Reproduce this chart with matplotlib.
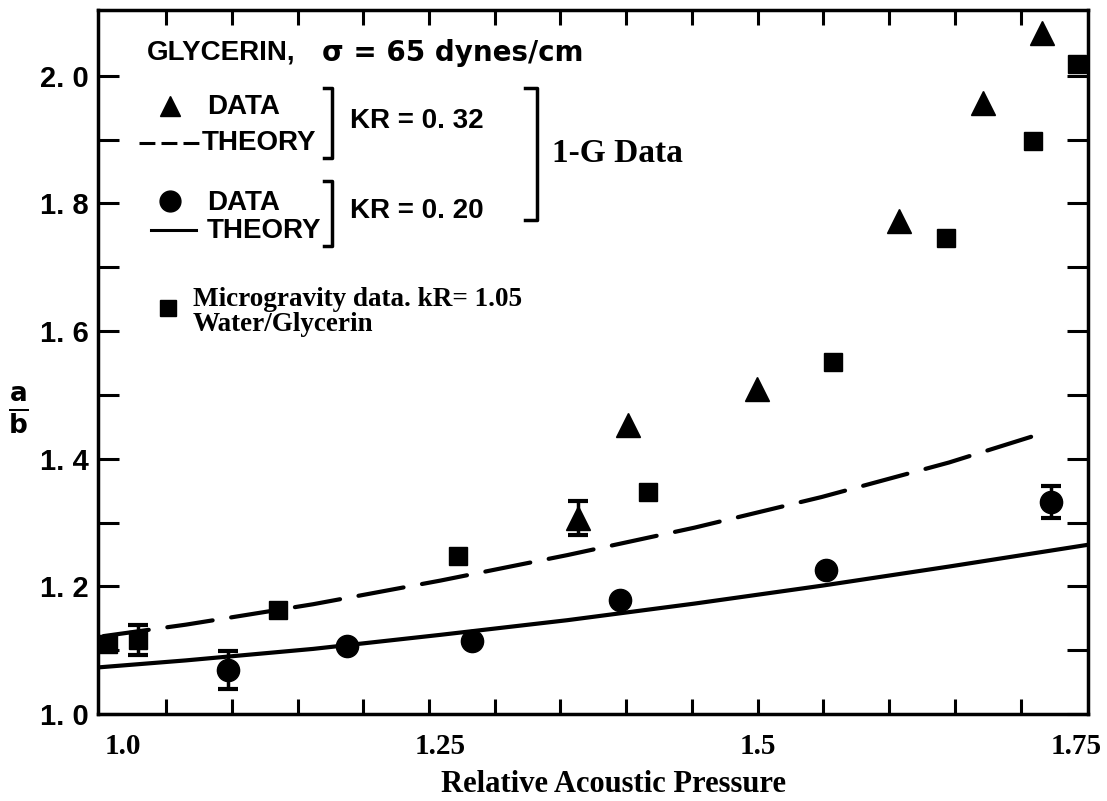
import numpy as np
import matplotlib.pyplot as plt
from matplotlib.ticker import FixedLocator

# 1-G data, KR = 0.32 (triangles)
tri_x = [1.358, 1.398, 1.499, 1.611, 1.677, 1.723]
tri_y = [1.307, 1.453, 1.509, 1.773, 1.958, 2.067]
tri_err_x = [1.358]
tri_err_y = [1.307]
tri_err = [0.027]

# 1-G data, KR = 0.20 (circles)
circ_x = [1.083, 1.177, 1.275, 1.391, 1.553, 1.730]
circ_y = [1.069, 1.107, 1.114, 1.179, 1.226, 1.332]
circ_err_x = [1.083, 1.730]
circ_err_y = [1.069, 1.332]
circ_err = [0.030, 0.025]

# microgravity data, kR = 1.05 (squares)
sq_x = [0.989, 1.012, 1.122, 1.264, 1.413, 1.559, 1.648, 1.716, 1.751]
sq_y = [1.110, 1.116, 1.163, 1.248, 1.348, 1.552, 1.745, 1.898, 2.019]
sq_err_x = [1.012]
sq_err_y = [1.116]
sq_err = [0.023]

# theory curves
th32_x = [0.985, 1.05, 1.15, 1.25, 1.35, 1.45, 1.55, 1.65, 1.727]
th32_y = [1.122, 1.140, 1.172, 1.209, 1.249, 1.292, 1.340, 1.394, 1.442]
th20_x = [0.981, 1.05, 1.15, 1.25, 1.35, 1.45, 1.55, 1.65, 1.759]
th20_y = [1.073, 1.084, 1.102, 1.124, 1.147, 1.173, 1.201, 1.231, 1.265]

x_ticks = [1.0, 1.25, 1.5, 1.75]
x_ticklabels = ["1.0", "1.25", "1.5", "1.75"]
y_ticks = [1.0, 1.2, 1.4, 1.6, 1.8, 2.0]
y_ticklabels = ["1. 0", "1. 2", "1. 4", "1. 6", "1. 8", "2. 0"]

W, H = 1107, 801
SANS = ['Liberation Sans', 'DejaVu Sans']
WIDE = ['DejaVu Sans']
SERIF = ['Liberation Serif', 'DejaVu Serif']
plt.rcParams['mathtext.fontset'] = 'dejavusans'

fig = plt.figure(figsize=(W / 100, H / 100), dpi=100)
ax = fig.add_axes([98 / W, 1 - 714 / H, 990 / W, 704 / H])
ax.set_xlim(0.9808, 1.7594)
ax.set_ylim(1.0, 2.103)

# theory lines
ax.plot(th32_x, th32_y, color='black', lw=3, dashes=(11, 4.5), dash_capstyle='round')
ax.plot(th20_x, th20_y, color='black', lw=3)

# data
ax.plot(tri_x, tri_y, ls='none', marker='^', ms=17, color='black')
ax.plot(circ_x, circ_y, ls='none', marker='o', ms=16, color='black')
ax.plot(sq_x, sq_y, ls='none', marker='s', ms=12.5, color='black')
ekw = dict(fmt='none', ecolor='black', elinewidth=2.5, capsize=7, capthick=3)
ax.errorbar(tri_err_x, tri_err_y, yerr=tri_err, **ekw)
ax.errorbar(circ_err_x, circ_err_y, yerr=circ_err, **ekw)
ax.errorbar(sq_err_x, sq_err_y, yerr=sq_err, **ekw)

# axes frame and ticks
for s in ax.spines.values():
    s.set_linewidth(2.5)
ax.set_xticks(x_ticks)
ax.set_xticklabels(x_ticklabels, family=SERIF, fontweight='bold', fontsize=21)
x0, x1 = ax.get_xlim()
ax.xaxis.set_minor_locator(FixedLocator(x0 + (x1 - x0) * np.linspace(0.0687, 0.932, 14)))
ax.tick_params(axis='x', which='major', length=0, pad=14)
ax.tick_params(axis='x', which='minor', direction='in', length=11, width=2.2, top=True)
ax.set_yticks(y_ticks)
ax.set_yticklabels(y_ticklabels, family=SANS, fontweight='bold', fontsize=21)
ax.yaxis.set_minor_locator(FixedLocator(np.arange(1.1, 2.05, 0.2)))
ax.tick_params(axis='y', which='both', direction='in', length=15, width=2.2, right=True, pad=7)

fig.text(613 / W, 1 - 785 / H, "Relative Acoustic Pressure", ha='center', va='center',
         family=SERIF, fontweight='bold', fontsize=22)
fig.text(18 / W, 1 - 410 / H, r'$\mathbf{\frac{a}{b}}$', ha='center', va='center', fontsize=27)


# legend block, placed in figure pixel coordinates
def px(x, y):
    return x / W, 1 - y / H


def fline(xs, ys, **kw):
    fig.lines.append(plt.Line2D([x / W for x in xs], [1 - y / H for y in ys],
                                color='black', transform=fig.transFigure, **kw))


tkw = dict(family=SANS, fontweight='bold', fontsize=20, va='center', ha='left')
fig.text(*px(147, 53), "GLYCERIN,", **tkw)
fig.text(*px(322, 53), "σ = 65 dynes/cm", family=WIDE, fontweight='bold', fontsize=20,
         va='center', ha='left')

fline([170], [106], marker='^', ms=15, ls='none')
fig.text(*px(207, 107), "DATA", **tkw)
fline([139, 201], [143, 143], lw=2.2, dashes=(5.2, 2))
fig.text(*px(202, 143), "THEORY", **tkw)
fig.text(*px(350, 121), "KR = 0. 32", **tkw)

fline([170], [201], marker='o', ms=15, ls='none')
fig.text(*px(207, 203), "DATA", **tkw)
fline([151, 196], [230, 230], lw=2.2)
fig.text(*px(207, 231), "THEORY", **tkw)
fig.text(*px(350, 211), "KR = 0. 20", **tkw)


def bracket(xr, ytop, ybot, hook=8):
    fline([xr - hook, xr, xr, xr - hook], [ytop, ytop, ybot, ybot], lw=2.5)


bracket(332, 88, 158)
bracket(332, 181, 246)
bracket(537, 88, 220, hook=12)
fig.text(*px(552, 153), "1-G Data", family=SERIF, fontweight='bold', fontsize=24,
         va='center', ha='left')

fline([168], [308], marker='s', ms=11, ls='none')
skw = dict(family=SERIF, fontweight='bold', fontsize=19.5, va='baseline', ha='left')
fig.text(*px(193, 306), "Microgravity data. kR= 1.05", **skw)
fig.text(*px(193, 331), "Water/Glycerin", **skw)

fig.savefig('out.png', dpi=100)
